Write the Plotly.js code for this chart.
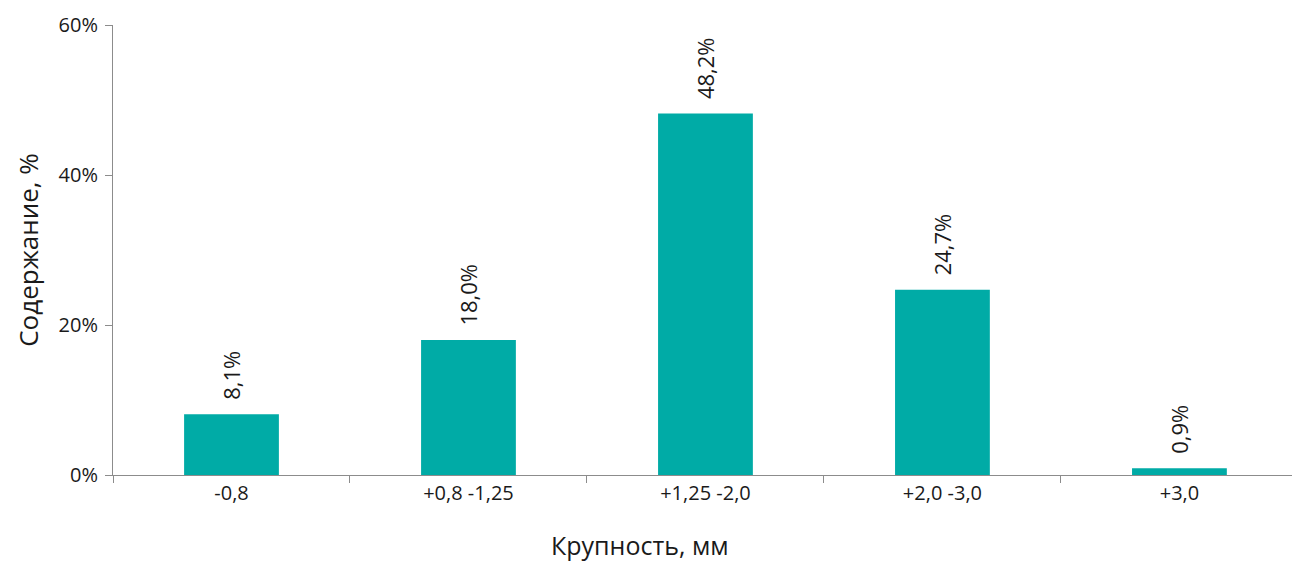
<!DOCTYPE html>
<html><head><meta charset="utf-8">
<script src="https://cdn.plot.ly/plotly-3.0.1.min.js"></script>
<style>html,body{margin:0;padding:0;background:#fff}#chart{width:1292px;height:561px}</style>
</head><body><div id="chart"></div>
<script>
const categories = ["-0,8", "+0,8 -1,25", "+1,25 -2,0", "+2,0 -3,0", "+3,0"];
const values = [8.1, 18.0, 48.2, 24.7, 0.9];
const labels = ["8,1%", "18,0%", "48,2%", "24,7%", "0,9%"];
const yTicks = [0, 20, 40, 60];
const yTickText = ["0%", "20%", "40%", "60%"];

const font = "'Open Sans', sans-serif";
const axisColor = "#8c8c8c";
const txt = "#1a1a1a";

Plotly.newPlot("chart", [{
  type: "bar",
  x: categories,
  y: values,
  text: labels.map(s => "\u00a0\u00a0" + s),
  textposition: "outside",
  textangle: -90,
  textfont: {family: font, size: 22, color: txt},
  cliponaxis: false,
  width: 0.4,
  marker: {color: "#00aba6"},
  hoverinfo: "skip"
}], {
  width: 1292, height: 561,
  margin: {l: 113, r: 0, t: 25, b: 86},
  paper_bgcolor: "#fff", plot_bgcolor: "#fff",
  showlegend: false,
  font: {family: font, size: 20, color: txt},
  xaxis: {
    type: "category",
    range: [-0.5, 4.475],
    showline: true, linecolor: axisColor, linewidth: 1,
    ticks: "outside", ticklen: 7, tickcolor: axisColor,
    tickson: "boundaries",
    showgrid: false, zeroline: false,
    tickfont: {family: font, size: 20, color: txt}
  },
  yaxis: {
    range: [0, 60],
    tickvals: yTicks, ticktext: yTickText,
    showline: true, linecolor: axisColor, linewidth: 1,
    ticks: "outside", ticklen: 7, tickcolor: axisColor,
    ticklabelstandoff: 3,
    showgrid: false, zeroline: false,
    tickfont: {family: font, size: 20, color: txt},
    title: {text: "Содержание, %", font: {family: font, size: 26, color: txt}, standoff: 12}
  },
  annotations: [{
    text: "Крупность, мм", xref: "paper", yref: "paper",
    x: (640 - 113) / (1292 - 113), y: 0, yshift: -70,
    xanchor: "center", yanchor: "middle", showarrow: false,
    font: {family: font, size: 25, color: txt}
  }]
}, {staticPlot: true});
</script></body></html>
